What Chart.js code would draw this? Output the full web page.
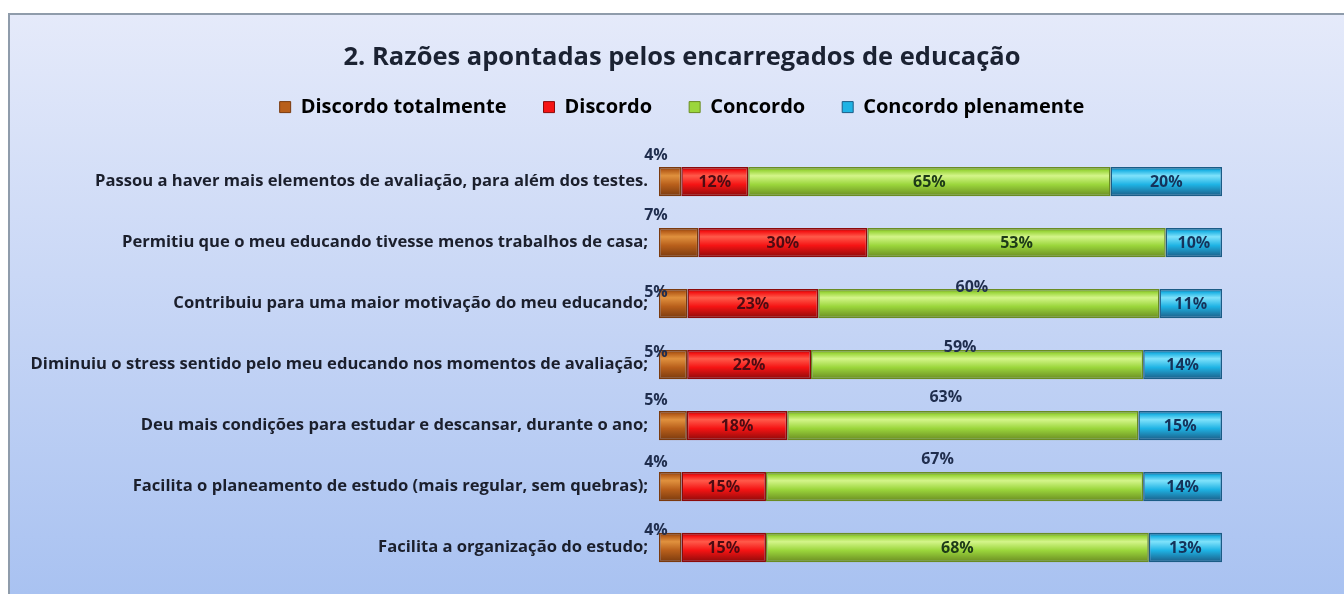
<!DOCTYPE html>
<html>
<head>
<meta charset="utf-8">
<script src="https://cdn.jsdelivr.net/npm/chart.js@4.4.1/dist/chart.umd.min.js"></script>
<style>
  html, body { margin: 0; padding: 0; background: #fff; }
  canvas { display: block; }
</style>
</head>
<body>
<canvas id="chart" width="1344" height="594"></canvas>
<script>
const categories = [
    'Passou a haver mais elementos de avaliação, para além dos testes.',
    'Permitiu que o meu educando tivesse menos trabalhos de casa;',
    'Contribuiu para uma maior motivação do meu educando;',
    'Diminuiu o stress sentido pelo meu educando nos momentos de avaliação;',
    'Deu mais condições para estudar e descansar, durante o ano;',
    'Facilita o planeamento de estudo (mais regular, sem quebras);',
    'Facilita a organização do estudo;'
];
const seriesNames = ['Discordo totalmente', 'Discordo', 'Concordo', 'Concordo plenamente'];
const discordoTotalmente = [4, 7, 5, 5, 5, 4, 4];
const discordo = [12, 30, 23, 22, 18, 15, 15];
const concordo = [65, 53, 60, 59, 63, 67, 68];
const concordoPlenamente = [20, 10, 11, 14, 15, 14, 13];

const seriesValues = [discordoTotalmente, discordo, concordo, concordoPlenamente];

// colours per series (light top / mid / dark edge / label text)
const palette = [
    { light: '#e0913e', mid: '#b85f1b', dark: '#7a3a0e', text: '#1f2d4d' },
    { light: '#ff5a4a', mid: '#f51414', dark: '#8c0a0a', text: '#4e0b12' },
    { light: '#d4f58a', mid: '#9bd63c', dark: '#6a8c22', text: '#1d3a18' },
    { light: '#7fe2fb', mid: '#1fb3e4', dark: '#1b5c86', text: '#15335a' }
];

// where Excel dropped some of the labels (offset from the bar centre, px)
const smallLabelDy = [-27, -28, -12, -13, -26, -25, -18];
const greenLabelDy = [null, null, -17, -18, -29, -28, null];

const FONT = '"Open Sans"';
const BAR_PCT = 0.48;
const HEAD_SHIFT = 71;   // title + legend sit right of the canvas centre

// each row is shown as 100 % stacked
const rowTotals = categories.map((c, i) => seriesValues.reduce((s, arr) => s + arr[i], 0));

function barFill(si) {
    const p = palette[si];
    return ctx => {
        const chart = ctx.chart;
        const ys = chart.scales.y;
        if (!ys || ctx.dataIndex === undefined || !isFinite(ys.getPixelForValue(0))) return p.mid;
        const yc = ys.getPixelForValue(ctx.dataIndex);
        const h = Math.abs(ys.getPixelForValue(1) - ys.getPixelForValue(0)) * BAR_PCT / 2;
        const g = chart.ctx.createLinearGradient(0, yc - h, 0, yc + h);
        g.addColorStop(0, p.dark);
        g.addColorStop(0.12, p.mid);
        g.addColorStop(0.3, p.light);
        g.addColorStop(0.6, p.mid);
        g.addColorStop(1, p.dark);
        return g;
    };
}

const frame = {
    id: 'frame',
    beforeDraw(chart) {
        const c = chart.ctx;
        c.save();
        c.fillStyle = '#ffffff';
        c.fillRect(0, 0, chart.width, chart.height);
        const g = c.createLinearGradient(0, 14, 0, chart.height);
        g.addColorStop(0, '#e5eafa');
        g.addColorStop(1, '#a9c2f1');
        c.fillStyle = g;
        c.fillRect(9, 14, chart.width, chart.height);
        c.strokeStyle = '#8f9cab';
        c.lineWidth = 2;
        c.strokeRect(9, 14, chart.width + 10, chart.height + 10);
        c.restore();
    }
};

// the legend in the original leaves a wide gap above the bars
const headLayout = {
    id: 'headLayout',
    beforeLayout(chart) {
        const lg = chart.legend;
        if (lg && !lg._gap) {
            const fit = lg.fit;
            lg.fit = function () { fit.call(this); this.height += 24; };
            lg._gap = true;
        }
    },
    afterLayout(chart) {
        [chart.titleBlock, chart.legend].forEach(b => {
            if (b) { b.left += HEAD_SHIFT; b.right += HEAD_SHIFT; }
        });
    }
};

const valueLabels = {
    id: 'valueLabels',
    afterDatasetsDraw(chart) {
        const c = chart.ctx;
        c.save();
        c.font = 'bold 16px ' + FONT;
        c.textAlign = 'center';
        c.textBaseline = 'middle';
        chart.data.datasets.forEach((ds, di) => {
            chart.getDatasetMeta(di).data.forEach((bar, i) => {
                let x = (bar.x + bar.base) / 2;
                let y = bar.y;
                c.fillStyle = palette[di].text;
                if (di === 0) {
                    x = bar.base - 3;
                    y = bar.y + smallLabelDy[i];
                    c.fillStyle = '#1f2d4d';
                } else if (di === 2 && greenLabelDy[i] !== null) {
                    x -= 17;
                    y = bar.y + greenLabelDy[i];
                    c.fillStyle = '#1f2d4d';
                }
                c.fillText(seriesValues[di][i] + '%', x, y + 1);
            });
        });
        c.restore();
    }
};

function main() {
    const datasets = seriesNames.map((name, si) => ({
        label: name,
        data: seriesValues[si].map((v, i) => v / rowTotals[i] * 100),
        backgroundColor: barFill(si),
        borderColor: palette[si].dark,
        borderWidth: 1.5,
        borderSkipped: false,
        barPercentage: BAR_PCT,
        categoryPercentage: 1
    }));

    new Chart(document.getElementById('chart'), {
        type: 'bar',
        data: { labels: categories, datasets: datasets },
        options: {
            indexAxis: 'y',
            responsive: false,
            animation: false,
            events: [],
            layout: { padding: { top: 14, left: 0, right: 122, bottom: 16 } },
            plugins: {
                title: {
                    display: true,
                    text: '2. Razões apontadas pelos encarregados de educação',
                    color: '#1b2232',
                    font: { family: FONT, size: 25.5, weight: 'bold' },
                    padding: { top: 28, bottom: -12.5 }
                },
                legend: {
                    position: 'top',
                    labels: {
                        color: '#1b2232',
                        font: { family: FONT, size: 20, weight: 'bold' },
                        boxWidth: 11,
                        boxHeight: 11,
                        padding: 37,
                        generateLabels: chart => seriesNames.map((n, i) => ({
                            text: n,
                            fillStyle: palette[i].mid,
                            strokeStyle: palette[i].dark,
                            lineWidth: 1,
                            datasetIndex: i,
                            hidden: false
                        }))
                    }
                },
                tooltip: { enabled: false }
            },
            scales: {
                x: { display: false, stacked: true, min: 0, max: 100 },
                y: {
                    stacked: true,
                    grid: { display: false },
                    border: { display: false },
                    afterFit: s => { s.width = 659; },
                    ticks: {
                        color: '#1b1f2c',
                        padding: 3,
                        font: { family: FONT, size: 16.6, weight: 'bold' }
                    }
                }
            }
        },
        plugins: [frame, headLayout, valueLabels]
    });
}

main();
</script>
</body>
</html>
